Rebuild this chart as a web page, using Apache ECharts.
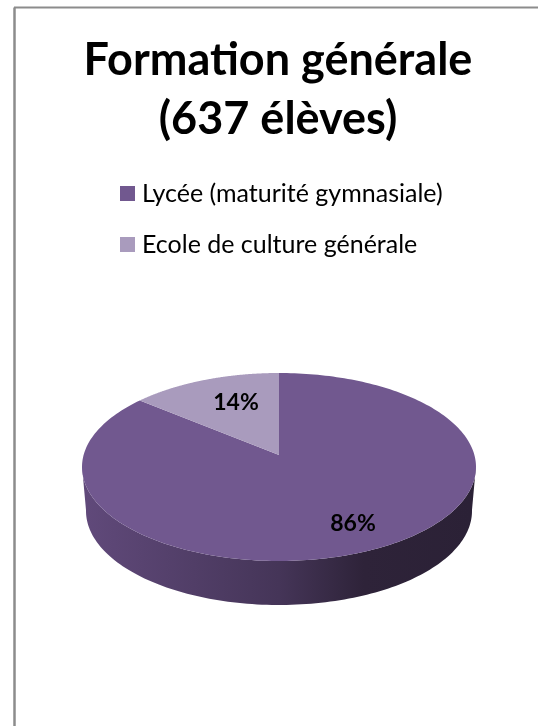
<!DOCTYPE html>
<html>
<head>
<meta charset="utf-8">
<style>
  html, body { margin: 0; padding: 0; background: #fff; }
  #main { width: 538px; height: 726px; }
</style>
<script src="https://cdn.jsdelivr.net/npm/echarts@6/dist/echarts.min.js"></script>
</head>
<body>
<div id="main"></div>
<script>
const titleText = 'Formation générale\n(637 élèves)';
const categories = ['Lycée (maturité gymnasiale)', 'Ecole de culture générale'];
const shares = [86, 14];
const colors = ['#71588F', '#A99BBD'];
const labelSpots = [[353, 524], [236, 403]];

// pie geometry, perspective moves the apex back from the ellipse centre
const FONT = 'Lato';
const top3d = { cx: 279, cy: 467, rx: 197, ry: 94 };
const bottom3d = { cx: 279, cy: 511, rx: 193, ry: 94 };
const tilt = 0.128;

function warp(x, y) {
    const d = 1 + tilt * y;
    return [x * Math.sqrt(1 - tilt * tilt) / d, (y + tilt) / d];
}
function rimPoint(box, angle, r) {
    const p = warp(r * Math.sin(angle), r * Math.cos(angle));
    return [box.cx + box.rx * p[0], box.cy - box.ry * p[1]];
}

const total = shares.reduce((a, b) => a + b, 0);

function renderSlice(idx) {
    return function (params, api) {
        const before = shares.slice(0, idx).reduce((a, b) => a + b, 0);
        const from = before / total * Math.PI * 2;
        const to = (before + api.value(0)) / total * Math.PI * 2;
        const steps = 240;
        const face = [rimPoint(top3d, 0, 0)];
        const wallTop = [];
        const wallBottom = [];
        for (let i = 0; i <= steps; i++) {
            const a = from + (to - from) * i / steps;
            face.push(rimPoint(top3d, a, 1));
            if (warp(Math.sin(a), Math.cos(a))[1] < 0.02) {
                wallTop.push(rimPoint(top3d, a, 1));
                wallBottom.unshift(rimPoint(bottom3d, a, 1));
            }
        }
        const children = [];
        if (wallTop.length > 1) {
            children.push({
                type: 'polygon',
                shape: { points: wallTop.concat(wallBottom) },
                style: {
                    fill: {
                        type: 'linear', global: true, x: 86, y: 0, x2: 472, y2: 0,
                        colorStops: [
                            { offset: 0, color: '#60497A' },
                            { offset: 0.5, color: '#453558' },
                            { offset: 0.72, color: '#2E2339' },
                            { offset: 1, color: '#2B2136' }
                        ]
                    }
                }
            });
        }
        children.push({
            type: 'polygon',
            shape: { points: face },
            style: { fill: colors[idx] }
        });
        children.push({
            type: 'text',
            style: {
                x: labelSpots[idx][0],
                y: labelSpots[idx][1],
                text: Math.round(api.value(0) / total * 100) + '%',
                fill: '#000',
                font: 'bold 23px ' + FONT,
                align: 'center',
                verticalAlign: 'middle'
            }
        });
        return { type: 'group', children: children };
    };
}

const chart = echarts.init(document.getElementById('main'));
chart.setOption({
    animation: false,
    backgroundColor: '#fff',
    title: {
        text: titleText,
        left: 273,
        top: 26,
        textAlign: 'center',
        textStyle: {
            fontFamily: FONT,
            fontWeight: 'bold',
            fontSize: 45,
            lineHeight: 59,
            color: '#000'
        }
    },
    legend: {
        orient: 'vertical',
        left: 120,
        top: 181,
        padding: 0,
        icon: 'rect',
        itemWidth: 15,
        itemHeight: 15,
        itemGap: 26,
        data: categories,
        textStyle: { fontFamily: FONT, fontSize: 25, lineHeight: 25, color: '#000', padding: [0, 0, 0, 2] }
    },
    graphic: [
        { type: 'line', shape: { x1: 14.5, y1: 7.5, x2: 14.5, y2: 726 }, style: { stroke: '#8C8C8C', lineWidth: 2.5 } },
        { type: 'line', shape: { x1: 14, y1: 7.5, x2: 538, y2: 7.5 }, style: { stroke: '#8C8C8C', lineWidth: 2 } }
    ],
    series: categories.map((name, i) => ({
        type: 'custom',
        name: name,
        coordinateSystem: 'none',
        itemStyle: { color: colors[i] },
        data: [shares[i]],
        renderItem: renderSlice(i)
    }))
});
</script>
</body>
</html>
